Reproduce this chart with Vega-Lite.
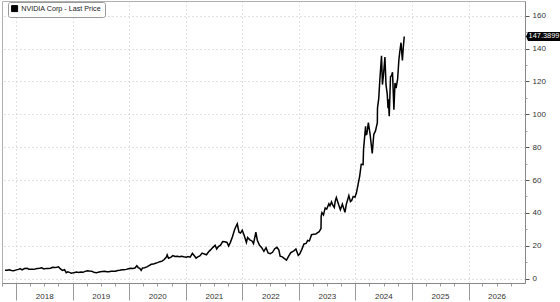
{
  "$schema": "https://vega.github.io/schema/vega-lite/v6.json",
  "autosize": {"type": "none"},
  "width": 523,
  "height": 282,
  "padding": {"left": 2, "top": 1, "right": 35, "bottom": 19},
  "background": "white",
  "config": {
    "view": {"stroke": "#b0b0b0", "strokeWidth": 1},
    "font": "Liberation Sans",
    "axis": {"labelFont": "Liberation Sans", "labelFontSize": 8, "labelColor": "#333", "domainColor": "#888", "tickColor": "#888"}
  },
  "datasets": {
    "px": [
      {"d": "2017-10-20", "p": 5.0}, {"d": "2017-11-03", "p": 5.1}, {"d": "2017-11-17", "p": 5.3}, {"d": "2017-12-01", "p": 4.9}, {"d": "2017-12-15", "p": 4.8},
      {"d": "2018-01-02", "p": 5.3}, {"d": "2018-01-16", "p": 5.6}, {"d": "2018-01-26", "p": 6.1}, {"d": "2018-02-08", "p": 5.3}, {"d": "2018-02-23", "p": 6.1},
      {"d": "2018-03-12", "p": 6.3}, {"d": "2018-03-23", "p": 5.7}, {"d": "2018-04-06", "p": 5.6}, {"d": "2018-04-20", "p": 5.6}, {"d": "2018-05-04", "p": 5.8},
      {"d": "2018-05-18", "p": 6.2}, {"d": "2018-06-01", "p": 6.3}, {"d": "2018-06-15", "p": 6.6}, {"d": "2018-06-29", "p": 5.9}, {"d": "2018-07-13", "p": 6.2},
      {"d": "2018-07-27", "p": 6.2}, {"d": "2018-08-10", "p": 6.3}, {"d": "2018-08-24", "p": 6.9}, {"d": "2018-09-07", "p": 6.8}, {"d": "2018-09-21", "p": 6.9},
      {"d": "2018-10-01", "p": 7.2}, {"d": "2018-10-12", "p": 6.0}, {"d": "2018-10-26", "p": 5.0}, {"d": "2018-11-09", "p": 5.4}, {"d": "2018-11-20", "p": 3.6},
      {"d": "2018-11-30", "p": 4.1}, {"d": "2018-12-14", "p": 3.6}, {"d": "2018-12-24", "p": 3.2}, {"d": "2019-01-08", "p": 3.6}, {"d": "2019-01-25", "p": 4.0},
      {"d": "2019-02-08", "p": 3.7}, {"d": "2019-02-22", "p": 4.0}, {"d": "2019-03-08", "p": 3.8}, {"d": "2019-03-22", "p": 4.4}, {"d": "2019-04-05", "p": 4.8},
      {"d": "2019-04-19", "p": 4.6}, {"d": "2019-05-03", "p": 4.5}, {"d": "2019-05-17", "p": 3.9}, {"d": "2019-06-03", "p": 3.6}, {"d": "2019-06-14", "p": 3.8},
      {"d": "2019-06-28", "p": 4.1}, {"d": "2019-07-12", "p": 4.3}, {"d": "2019-07-26", "p": 4.4}, {"d": "2019-08-09", "p": 4.1}, {"d": "2019-08-23", "p": 4.1},
      {"d": "2019-09-06", "p": 4.4}, {"d": "2019-09-20", "p": 4.5}, {"d": "2019-10-04", "p": 4.5}, {"d": "2019-10-18", "p": 4.9}, {"d": "2019-11-01", "p": 5.0},
      {"d": "2019-11-15", "p": 5.3}, {"d": "2019-11-29", "p": 5.4}, {"d": "2019-12-13", "p": 5.6}, {"d": "2019-12-27", "p": 6.0}, {"d": "2020-01-10", "p": 6.3},
      {"d": "2020-01-24", "p": 6.2}, {"d": "2020-02-07", "p": 6.4}, {"d": "2020-02-19", "p": 7.8}, {"d": "2020-02-28", "p": 6.7}, {"d": "2020-03-09", "p": 6.2},
      {"d": "2020-03-18", "p": 5.0}, {"d": "2020-03-27", "p": 6.5}, {"d": "2020-04-09", "p": 6.6}, {"d": "2020-04-24", "p": 7.1}, {"d": "2020-05-08", "p": 7.9},
      {"d": "2020-05-22", "p": 8.7}, {"d": "2020-06-05", "p": 8.8}, {"d": "2020-06-19", "p": 9.3}, {"d": "2020-07-02", "p": 9.7}, {"d": "2020-07-17", "p": 10.3},
      {"d": "2020-07-31", "p": 10.6}, {"d": "2020-08-14", "p": 11.6}, {"d": "2020-08-28", "p": 13.1}, {"d": "2020-09-02", "p": 14.4}, {"d": "2020-09-11", "p": 12.4},
      {"d": "2020-09-25", "p": 12.9}, {"d": "2020-10-09", "p": 14.0}, {"d": "2020-10-23", "p": 13.4}, {"d": "2020-11-06", "p": 13.6}, {"d": "2020-11-20", "p": 13.3},
      {"d": "2020-12-04", "p": 13.6}, {"d": "2020-12-18", "p": 13.3}, {"d": "2021-01-04", "p": 13.0}, {"d": "2021-01-15", "p": 13.4}, {"d": "2021-01-29", "p": 13.0},
      {"d": "2021-02-12", "p": 15.3}, {"d": "2021-02-26", "p": 13.7}, {"d": "2021-03-08", "p": 12.4}, {"d": "2021-03-19", "p": 13.2}, {"d": "2021-04-01", "p": 13.8},
      {"d": "2021-04-16", "p": 15.5}, {"d": "2021-04-30", "p": 15.0}, {"d": "2021-05-14", "p": 14.5}, {"d": "2021-05-28", "p": 16.3}, {"d": "2021-06-11", "p": 17.6},
      {"d": "2021-06-25", "p": 19.0}, {"d": "2021-07-09", "p": 20.3}, {"d": "2021-07-19", "p": 18.0}, {"d": "2021-07-30", "p": 19.5}, {"d": "2021-08-13", "p": 20.3},
      {"d": "2021-08-27", "p": 22.6}, {"d": "2021-09-10", "p": 22.4}, {"d": "2021-09-24", "p": 22.0}, {"d": "2021-10-04", "p": 19.8}, {"d": "2021-10-15", "p": 21.9},
      {"d": "2021-10-29", "p": 25.5}, {"d": "2021-11-12", "p": 29.9}, {"d": "2021-11-22", "p": 32.0}, {"d": "2021-11-29", "p": 33.3}, {"d": "2021-12-10", "p": 28.2},
      {"d": "2021-12-20", "p": 27.7}, {"d": "2021-12-31", "p": 29.4}, {"d": "2022-01-14", "p": 25.9}, {"d": "2022-01-27", "p": 22.0}, {"d": "2022-02-04", "p": 25.0},
      {"d": "2022-02-18", "p": 23.6}, {"d": "2022-03-04", "p": 22.9}, {"d": "2022-03-14", "p": 21.3}, {"d": "2022-03-29", "p": 28.2}, {"d": "2022-04-08", "p": 23.1},
      {"d": "2022-04-22", "p": 20.2}, {"d": "2022-05-06", "p": 18.8}, {"d": "2022-05-20", "p": 16.6}, {"d": "2022-06-03", "p": 18.8}, {"d": "2022-06-16", "p": 15.6},
      {"d": "2022-06-30", "p": 15.2}, {"d": "2022-07-15", "p": 16.0}, {"d": "2022-07-29", "p": 18.2}, {"d": "2022-08-12", "p": 19.0}, {"d": "2022-08-25", "p": 17.3},
      {"d": "2022-09-02", "p": 13.6}, {"d": "2022-09-16", "p": 13.2}, {"d": "2022-09-30", "p": 12.1}, {"d": "2022-10-13", "p": 11.2}, {"d": "2022-10-28", "p": 13.8},
      {"d": "2022-11-10", "p": 15.8}, {"d": "2022-11-30", "p": 16.9}, {"d": "2022-12-13", "p": 18.0}, {"d": "2022-12-28", "p": 14.1}, {"d": "2023-01-06", "p": 14.9},
      {"d": "2023-01-20", "p": 17.8}, {"d": "2023-02-03", "p": 21.1}, {"d": "2023-02-17", "p": 21.4}, {"d": "2023-02-27", "p": 23.2}, {"d": "2023-03-10", "p": 22.9},
      {"d": "2023-03-24", "p": 26.7}, {"d": "2023-04-06", "p": 27.0}, {"d": "2023-04-20", "p": 27.1}, {"d": "2023-04-28", "p": 27.7}, {"d": "2023-05-12", "p": 28.5},
      {"d": "2023-05-24", "p": 30.5}, {"d": "2023-05-25", "p": 37.9}, {"d": "2023-05-30", "p": 40.1}, {"d": "2023-06-09", "p": 38.7}, {"d": "2023-06-20", "p": 43.0},
      {"d": "2023-06-30", "p": 42.3}, {"d": "2023-07-14", "p": 45.5}, {"d": "2023-07-21", "p": 44.3}, {"d": "2023-07-31", "p": 46.7}, {"d": "2023-08-08", "p": 44.7},
      {"d": "2023-08-18", "p": 43.3}, {"d": "2023-08-24", "p": 47.2}, {"d": "2023-08-31", "p": 49.3}, {"d": "2023-09-13", "p": 45.5}, {"d": "2023-09-26", "p": 41.9},
      {"d": "2023-10-09", "p": 45.3}, {"d": "2023-10-26", "p": 40.3}, {"d": "2023-11-03", "p": 45.0}, {"d": "2023-11-20", "p": 50.5}, {"d": "2023-11-30", "p": 46.8},
      {"d": "2023-12-08", "p": 47.5}, {"d": "2023-12-18", "p": 50.0}, {"d": "2023-12-29", "p": 49.5}, {"d": "2024-01-08", "p": 52.2}, {"d": "2024-01-18", "p": 57.1},
      {"d": "2024-01-29", "p": 62.4}, {"d": "2024-02-08", "p": 69.6}, {"d": "2024-02-20", "p": 69.4}, {"d": "2024-02-23", "p": 78.8}, {"d": "2024-03-07", "p": 92.7},
      {"d": "2024-03-08", "p": 87.5}, {"d": "2024-03-15", "p": 87.8}, {"d": "2024-03-25", "p": 95.0}, {"d": "2024-04-05", "p": 88.0}, {"d": "2024-04-19", "p": 76.2},
      {"d": "2024-04-29", "p": 87.7}, {"d": "2024-05-10", "p": 89.9}, {"d": "2024-05-22", "p": 94.9}, {"d": "2024-05-23", "p": 103.8}, {"d": "2024-05-31", "p": 109.6},
      {"d": "2024-06-07", "p": 120.9}, {"d": "2024-06-18", "p": 135.6}, {"d": "2024-06-24", "p": 118.1}, {"d": "2024-07-01", "p": 124.3}, {"d": "2024-07-10", "p": 134.9},
      {"d": "2024-07-17", "p": 117.9}, {"d": "2024-07-25", "p": 112.3}, {"d": "2024-07-30", "p": 103.7}, {"d": "2024-08-01", "p": 109.2}, {"d": "2024-08-07", "p": 98.9},
      {"d": "2024-08-15", "p": 122.9}, {"d": "2024-08-22", "p": 123.7}, {"d": "2024-08-28", "p": 125.6}, {"d": "2024-09-06", "p": 102.8}, {"d": "2024-09-13", "p": 119.1},
      {"d": "2024-09-20", "p": 116.0}, {"d": "2024-09-30", "p": 121.4}, {"d": "2024-10-08", "p": 132.9}, {"d": "2024-10-14", "p": 138.1}, {"d": "2024-10-22", "p": 143.6},
      {"d": "2024-10-31", "p": 132.8}, {"d": "2024-11-05", "p": 139.9}, {"d": "2024-11-12", "p": 147.3899}
    ],
    "last": [{"d": "2027-01-01", "p": 147.3899, "t": "147.3899"}]
  },
  "resolve": {"axis": {"x": "independent", "y": "independent"}},
  "layer": [
    {
      "data": {"name": "px"},
      "mark": {"type": "line", "strokeWidth": 1.5, "interpolate": "linear"},
      "encoding": {
        "x": {
          "field": "d", "type": "temporal",
          "scale": {"domain": [{"year": 2017, "month": 10, "date": 1, "utc": true}, {"year": 2027, "month": 1, "date": 1, "utc": true}]},
          "axis": {
            "orient": "bottom", "title": null,
            "values": [
              {"year": 2018, "month": 1, "date": 1, "utc": true}, {"year": 2019, "month": 1, "date": 1, "utc": true},
              {"year": 2020, "month": 1, "date": 1, "utc": true}, {"year": 2021, "month": 1, "date": 1, "utc": true},
              {"year": 2022, "month": 1, "date": 1, "utc": true}, {"year": 2023, "month": 1, "date": 1, "utc": true},
              {"year": 2024, "month": 1, "date": 1, "utc": true}, {"year": 2025, "month": 1, "date": 1, "utc": true},
              {"year": 2026, "month": 1, "date": 1, "utc": true}
            ],
            "labelExpr": "utcFormat(datum.value, '%Y')",
            "labelOffset": 28, "labelPadding": -8, "labelFlush": false, "labelOverlap": false,
            "tickSize": 17, "tickColor": "#999",
            "grid": true, "gridColor": "#c4c4c4", "gridDash": [1, 3], "gridWidth": 1
          }
        },
        "y": {
          "field": "p", "type": "quantitative",
          "scale": {"domain": [-2.7, 169], "nice": false, "zero": false},
          "axis": {
            "orient": "right", "title": null,
            "values": [0, 20, 40, 60, 80, 100, 120, 140, 160],
            "tickSize": 4, "tickColor": "#555", "labelPadding": 3,
            "grid": true, "gridColor": "#c4c4c4", "gridDash": [1, 3], "gridWidth": 1
          }
        },
        "color": {
          "datum": "NVIDIA Corp - Last Price",
          "type": "nominal",
          "scale": {"range": ["#000000"]},
          "legend": {
            "title": null, "orient": "none", "legendX": 6, "legendY": 1,
            "strokeColor": "#999", "fillColor": "white", "padding": 3, "cornerRadius": 2,
            "symbolType": "square", "symbolFillColor": "#000", "symbolStrokeColor": "#000", "symbolSize": 36, "symbolStrokeWidth": 1,
            "labelFont": "Liberation Sans", "labelFontSize": 7.2, "labelColor": "#222", "labelOffset": 3
          }
        }
      }
    },
    {
      "data": {"name": "px"},
      "mark": {"type": "line", "opacity": 0},
      "encoding": {
        "x": {
          "field": "d", "type": "temporal",
          "axis": {
            "orient": "bottom", "title": null, "labels": false, "domain": false, "grid": false,
            "values": [
              {"year": 2017, "month": 10, "date": 1, "utc": true},
              {"year": 2018, "month": 4, "date": 1, "utc": true}, {"year": 2018, "month": 7, "date": 1, "utc": true}, {"year": 2018, "month": 10, "date": 1, "utc": true},
              {"year": 2019, "month": 4, "date": 1, "utc": true}, {"year": 2019, "month": 7, "date": 1, "utc": true}, {"year": 2019, "month": 10, "date": 1, "utc": true},
              {"year": 2020, "month": 4, "date": 1, "utc": true}, {"year": 2020, "month": 7, "date": 1, "utc": true}, {"year": 2020, "month": 10, "date": 1, "utc": true},
              {"year": 2021, "month": 4, "date": 1, "utc": true}, {"year": 2021, "month": 7, "date": 1, "utc": true}, {"year": 2021, "month": 10, "date": 1, "utc": true},
              {"year": 2022, "month": 4, "date": 1, "utc": true}, {"year": 2022, "month": 7, "date": 1, "utc": true}, {"year": 2022, "month": 10, "date": 1, "utc": true},
              {"year": 2023, "month": 4, "date": 1, "utc": true}, {"year": 2023, "month": 7, "date": 1, "utc": true}, {"year": 2023, "month": 10, "date": 1, "utc": true},
              {"year": 2024, "month": 4, "date": 1, "utc": true}, {"year": 2024, "month": 7, "date": 1, "utc": true}, {"year": 2024, "month": 10, "date": 1, "utc": true},
              {"year": 2025, "month": 4, "date": 1, "utc": true}, {"year": 2025, "month": 7, "date": 1, "utc": true}, {"year": 2025, "month": 10, "date": 1, "utc": true},
              {"year": 2026, "month": 4, "date": 1, "utc": true}, {"year": 2026, "month": 7, "date": 1, "utc": true}, {"year": 2026, "month": 10, "date": 1, "utc": true}
            ],
            "tickSize": 3, "tickColor": "#999"
          }
        },
        "y": {
          "field": "p", "type": "quantitative",
          "axis": {
            "orient": "right", "title": null, "labels": false, "domain": false, "grid": false,
            "values": [10, 30, 50, 70, 90, 110, 130, 150],
            "tickSize": 2, "tickColor": "#999"
          }
        }
      }
    },
    {
      "data": {"name": "last"},
      "mark": {"type": "point", "filled": true, "color": "#000", "opacity": 1, "size": 1156, "xOffset": 18,
               "shape": "M -0.88 -0.27 L 1 -0.27 L 1 0.27 L -0.88 0.27 L -1 0 Z"},
      "encoding": {
        "x": {"field": "d", "type": "temporal", "axis": null},
        "y": {"field": "p", "type": "quantitative", "axis": null}
      }
    },
    {
      "data": {"name": "last"},
      "mark": {"type": "text", "color": "white", "font": "Liberation Sans", "fontSize": 7.4, "align": "center", "baseline": "middle", "dx": 19},
      "encoding": {
        "x": {"field": "d", "type": "temporal", "axis": null},
        "y": {"field": "p", "type": "quantitative", "axis": null},
        "text": {"field": "t"}
      }
    }
  ]
}
